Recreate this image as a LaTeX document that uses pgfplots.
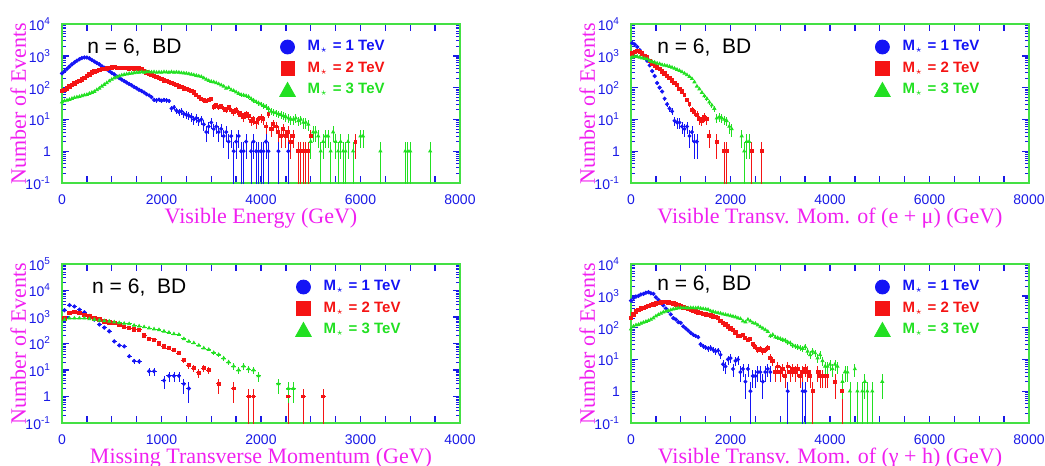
\documentclass[border=0pt]{standalone}
\usepackage{fontspec}
\setmainfont{Liberation Serif}
\setsansfont{Liberation Sans}
\usepackage{pgfplots}
\pgfplotsset{compat=1.18}
\definecolor{sblue}{HTML}{1414F5}
\definecolor{sred}{HTML}{F51414}
\definecolor{sgreen}{HTML}{22E022}
\definecolor{framegreen}{HTML}{44E044}
\definecolor{tickblue}{HTML}{1A1AE6}
\definecolor{labmag}{HTML}{F020F0}

\begin{document}
\begin{tikzpicture}
\useasboundingbox (0,0) rectangle (522.5pt,-233pt);

% ---------- visible energy
\begin{axis}[at={(31pt,-12pt)}, anchor=north west,
  scale only axis, width=199pt, height=79.5pt,
  ymode=log, ymin=0.1, ymax=10000, xmin=0, xmax=8000,
  xtick={0,500,...,8000}, xticklabels={0,,,,2000,,,,4000,,,,6000,,,,8000},
  ytick={0.1,1,10,100,1000,10000},
  yticklabels={10\textsuperscript{-1},1,10\textsuperscript{1},10\textsuperscript{2},10\textsuperscript{3},10\textsuperscript{4}},
  minor ytick={0.2,0.3,0.4,0.5,0.6,0.7,0.8,0.9,2,3,4,5,6,7,8,9,20,30,40,50,60,70,80,90,200,300,400,500,600,700,800,900,2000,3000,4000,5000,6000,7000,8000,9000},
  axis line style={draw=framegreen, line width=0.8pt},
  major tick length=3.5pt, minor tick length=2pt,
  major tick style={draw=tickblue, line width=0.7pt},
  minor tick style={draw=tickblue, line width=0.45pt},
  xticklabel style={text=tickblue, font=\sffamily\fontsize{7}{8}\selectfont, yshift=-2.5pt},
  yticklabel style={text=tickblue, font=\sffamily\fontsize{7}{8}\selectfont, xshift=-2pt},
  xlabel style={text=labmag, font=\fontsize{11}{12}\selectfont, at={(axis description cs:0.5,-0.22)}, anchor=center},
  ylabel style={text=labmag, font=\fontsize{11}{12}\selectfont, at={(axis description cs:-0.11,0.5)}, anchor=center},
  xlabel={Visible Energy (GeV)}, ylabel={Number of Events},
  legend cell align=left,
  legend style={draw=none, fill=none, font=\sffamily\bfseries\fontsize{7.5}{9}\selectfont, row sep=0pt, column sep=4pt, at={(0.53,0.95)}, anchor=north west}]
\addplot[only marks, mark size=0.85pt, color=sblue, mark=*,
  legend image code/.code={\fill[sblue] (0.2cm,0cm) circle (3.5pt);}] table {
x y
0 280
50 330
100 390
150 460
200 540
250 620
300 700
350 780
400 850
450 890
500 880
550 830
600 740
650 660
700 600
750 540
800 470
850 420
900 380
950 330
1000 290
1050 260
1100 225
1150 200
1200 180
1250 160
1300 145
1350 130
1400 118
1450 105
1500 95
1550 85
1600 78
1650 70
1700 62
};
\addlegendentry{\textcolor{sblue}{M$_\star$ = 1 TeV}}
\addplot[only marks, mark size=0.85pt, color=sred, mark=square*,
  legend image code/.code={\fill[sred] (0.2cm,0cm)+(-3.3pt,-3.3pt) rectangle +(3.3pt,3.3pt);}] table {
x y
0 80
50 85
100 95
150 110
200 120
250 135
300 150
350 165
400 180
450 200
500 230
550 260
600 300
650 320
700 340
750 360
800 380
850 390
900 400
950 420
1000 430
1050 440
1100 420
1150 410
1200 420
1250 410
1300 420
1350 400
1400 410
1450 400
1500 410
1550 400
1600 380
1650 330
1700 300
1750 280
1800 260
1850 230
1900 220
1950 200
2000 185
2050 170
2100 160
2150 150
2200 140
2250 130
2300 120
2350 110
2400 105
2450 95
2500 90
2550 85
2600 80
2650 70
};
\addlegendentry{\textcolor{sred}{M$_\star$ = 2 TeV}}
\addplot[only marks, mark size=0.85pt, color=sgreen, mark=triangle*,
  legend image code/.code={\fill[sgreen] (0.2cm,0cm)+(-3.9pt,-3.3pt) -- +(3.9pt,-3.3pt) -- +(0pt,3.7pt) -- cycle;}] table {
x y
0 35
50 38
100 40
150 42
200 45
250 48
300 50
350 52
400 55
450 58
500 60
550 65
600 70
650 75
700 85
750 95
800 110
850 125
900 140
950 160
1000 180
1050 200
1100 215
1150 230
1200 245
1250 255
1300 265
1350 275
1400 280
1450 290
1500 300
1550 300
1600 310
1650 300
1700 315
1750 310
1800 305
1850 310
1900 300
1950 305
2000 300
2050 310
2100 305
2150 300
2200 310
2250 300
2300 305
2350 300
2400 290
2450 285
2500 280
2550 270
2600 260
2650 250
2700 240
2750 230
2800 220
2850 200
2900 180
2950 165
3000 155
3050 150
3100 140
3150 130
3200 120
3250 110
3300 95
3350 100
3400 85
3450 80
3500 72
3550 65
};
\addlegendentry{\textcolor{sgreen}{M$_\star$ = 3 TeV}}
% low-count bins, drawn with their error bars
\addplot[forget plot, only marks, mark=*, mark size=0.7pt, color=sblue, line width=0.55pt,
  error bars/.cd, y dir=both, y explicit, x dir=both, x fixed=25, error mark=none]
  table[y error expr={min(sqrt(\thisrow{y}),0.995*\thisrow{y})}] {
x y
1750 57
1800 50
1850 41
1900 40
1950 42
2000 39
2050 41
2100 40
2150 38
2200 22
2250 24
2300 19
2350 17
2400 18
2450 15
2500 14
2550 13
2600 12
2650 10
2700 11
2750 9
2800 10
2850 7
2900 4
2950 6
3000 8
3050 5
3100 6
3150 4
3200 5
3250 3
3300 4
3350 2
3400 3
3450 1
3500 2
3550 3
3600 1
3650 1
3700 2
3800 1
3850 2
3900 1
3950 1
4000 1
4050 1
4100 2
4150 1
4350 1
4550 1
};
\addplot[forget plot, only marks, mark=square*, mark size=0.7pt, color=sred, line width=0.55pt,
  error bars/.cd, y dir=both, y explicit, x dir=both, x fixed=25, error mark=none]
  table[y error expr={min(sqrt(\thisrow{y}),0.995*\thisrow{y})}] {
x y
2700 60
2750 52
2800 45
2850 40
2900 38
2950 42
3000 44
3050 25
3100 28
3150 24
3200 26
3250 22
3300 20
3350 24
3400 19
3450 17
3500 20
3550 16
3600 14
3650 12
3700 15
3750 13
3800 9
3850 10
3900 8
3950 10
4000 11
4050 10
4100 6
4150 15
4200 5
4250 7
4300 6
4350 4
4400 3
4450 5
4500 3
4550 4
4600 2
4650 3
4750 1
4800 1
4850 1
4900 1
4950 1
5000 3
5900 2
};
\addplot[forget plot, only marks, mark=triangle*, mark size=0.7pt, color=sgreen, line width=0.55pt,
  error bars/.cd, y dir=both, y explicit, x dir=both, x fixed=25, error mark=none]
  table[y error expr={min(sqrt(\thisrow{y}),0.995*\thisrow{y})}] {
x y
3600 60
3650 58
3700 55
3750 52
3800 45
3850 40
3900 36
3950 33
4000 30
4050 27
4100 25
4150 22
4200 18
4250 17
4300 16
4350 15
4400 14
4450 13
4500 12
4550 11
4600 10
4650 10
4700 11
4750 9
4800 10
4850 8
4900 8
4950 7
5000 2
5050 4
5100 4
5150 3
5200 1
5250 2
5300 3
5350 3
5400 1
5450 4
5500 2
5550 1
5600 2
5650 1
5700 1
5750 2
5850 1
6000 3
6050 3
6400 1
6900 1
6950 1
7000 1
7400 1
};
\node[anchor=west, inner sep=0pt, font=\sffamily\fontsize{10.5}{12}\selectfont] at (rel axis cs:0.063,0.855) {n = 6,\ \ BD};
\end{axis}

% ---------- visible pT (e+mu)
\begin{axis}[at={(315.5pt,-12pt)}, anchor=north west,
  scale only axis, width=199pt, height=79.5pt,
  ymode=log, ymin=0.1, ymax=10000, xmin=0, xmax=8000,
  xtick={0,500,...,8000}, xticklabels={0,,,,2000,,,,4000,,,,6000,,,,8000},
  ytick={0.1,1,10,100,1000,10000},
  yticklabels={10\textsuperscript{-1},1,10\textsuperscript{1},10\textsuperscript{2},10\textsuperscript{3},10\textsuperscript{4}},
  minor ytick={0.2,0.3,0.4,0.5,0.6,0.7,0.8,0.9,2,3,4,5,6,7,8,9,20,30,40,50,60,70,80,90,200,300,400,500,600,700,800,900,2000,3000,4000,5000,6000,7000,8000,9000},
  axis line style={draw=framegreen, line width=0.8pt},
  major tick length=3.5pt, minor tick length=2pt,
  major tick style={draw=tickblue, line width=0.7pt},
  minor tick style={draw=tickblue, line width=0.45pt},
  xticklabel style={text=tickblue, font=\sffamily\fontsize{7}{8}\selectfont, yshift=-2.5pt},
  yticklabel style={text=tickblue, font=\sffamily\fontsize{7}{8}\selectfont, xshift=-2pt},
  xlabel style={text=labmag, font=\fontsize{11}{12}\selectfont, at={(axis description cs:0.5,-0.22)}, anchor=center},
  ylabel style={text=labmag, font=\fontsize{11}{12}\selectfont, at={(axis description cs:-0.11,0.5)}, anchor=center},
  xlabel={Visible Transv. Mom. of (e + μ) (GeV)}, ylabel={Number of Events},
  legend cell align=left,
  legend style={draw=none, fill=none, font=\sffamily\bfseries\fontsize{7.5}{9}\selectfont, row sep=0pt, column sep=4pt, at={(0.595,0.95)}, anchor=north west}]
\addplot[only marks, mark size=0.85pt, color=sblue, mark=*,
  legend image code/.code={\fill[sblue] (0.2cm,0cm) circle (3.5pt);},
  error bars/.cd, x dir=both, x fixed=25, error mark=none] table {
x y
25 2500
75 2300
125 1900
175 1500
225 1200
275 900
325 700
375 500
425 330
475 230
525 140
575 100
625 75
};
\addlegendentry{\textcolor{sblue}{M$_\star$ = 1 TeV}}
\addplot[only marks, mark size=0.85pt, color=sred, mark=square*,
  legend image code/.code={\fill[sred] (0.2cm,0cm)+(-3.3pt,-3.3pt) rectangle +(3.3pt,3.3pt);},
  error bars/.cd, x dir=both, x fixed=25, error mark=none] table {
x y
25 1200
75 1350
125 1400
175 1300
225 1200
275 1000
325 900
375 700
425 580
475 500
525 430
575 380
625 320
675 280
725 230
775 200
825 170
875 140
925 120
975 90
1025 75
};
\addlegendentry{\textcolor{sred}{M$_\star$ = 2 TeV}}
\addplot[only marks, mark size=0.85pt, color=sgreen, mark=triangle*,
  legend image code/.code={\fill[sgreen] (0.2cm,0cm)+(-3.9pt,-3.3pt) -- +(3.9pt,-3.3pt) -- +(0pt,3.7pt) -- cycle;},
  error bars/.cd, x dir=both, x fixed=25, error mark=none] table {
x y
25 900
75 950
125 950
175 900
225 850
275 820
325 780
375 700
425 650
475 620
525 580
575 560
625 520
675 500
725 480
775 460
825 430
875 400
925 370
975 340
1025 310
1075 280
1125 250
1175 220
1225 190
1275 150
1325 110
1375 90
1425 70
};
\addlegendentry{\textcolor{sgreen}{M$_\star$ = 3 TeV}}
\addplot[forget plot, only marks, mark=*, mark size=0.7pt, color=sblue, line width=0.55pt,
  error bars/.cd, y dir=both, y explicit, x dir=both, x fixed=25, error mark=none]
  table[y error expr={min(sqrt(\thisrow{y}),0.995*\thisrow{y})}] {
x y
675 45
725 30
775 22
825 18
875 9
925 8
975 8
1025 6
1075 5
1125 6
1175 3
1225 4
1275 2
1325 2
};
\addplot[forget plot, only marks, mark=square*, mark size=0.7pt, color=sred, line width=0.55pt,
  error bars/.cd, y dir=both, y explicit, x dir=both, x fixed=25, error mark=none]
  table[y error expr={min(sqrt(\thisrow{y}),0.995*\thisrow{y})}] {
x y
1075 60
1125 42
1175 30
1225 20
1275 17
1325 14
1375 10
1425 9
1475 12
1525 10
1575 3
1725 2
1875 1
1925 1
2425 1
2625 1
};
\addplot[forget plot, only marks, mark=triangle*, mark size=0.7pt, color=sgreen, line width=0.55pt,
  error bars/.cd, y dir=both, y explicit, x dir=both, x fixed=25, error mark=none]
  table[y error expr={min(sqrt(\thisrow{y}),0.995*\thisrow{y})}] {
x y
1475 55
1525 45
1575 35
1625 28
1675 22
1725 11
1775 12
1825 11
1875 10
1925 9
1975 6
2025 5
2225 3
2275 1
2325 2
2375 2
};
\node[anchor=west, inner sep=0pt, font=\sffamily\fontsize{10.5}{12}\selectfont] at (rel axis cs:0.065,0.855) {n = 6,\ \ BD};
\end{axis}

% ---------- missing pT
\begin{axis}[at={(31pt,-132pt)}, anchor=north west,
  scale only axis, width=199pt, height=79.5pt,
  ymode=log, ymin=0.1, ymax=100000, xmin=0, xmax=4000,
  xtick={0,250,...,4000}, xticklabels={0,,,,1000,,,,2000,,,,3000,,,,4000},
  ytick={0.1,1,10,100,1000,10000,100000},
  yticklabels={10\textsuperscript{-1},1,10\textsuperscript{1},10\textsuperscript{2},10\textsuperscript{3},10\textsuperscript{4},10\textsuperscript{5}},
  minor ytick={0.2,0.3,0.4,0.5,0.6,0.7,0.8,0.9,2,3,4,5,6,7,8,9,20,30,40,50,60,70,80,90,200,300,400,500,600,700,800,900,2000,3000,4000,5000,6000,7000,8000,9000,20000,30000,40000,50000,60000,70000,80000,90000},
  axis line style={draw=framegreen, line width=0.8pt},
  major tick length=3.5pt, minor tick length=2pt,
  major tick style={draw=tickblue, line width=0.7pt},
  minor tick style={draw=tickblue, line width=0.45pt},
  xticklabel style={text=tickblue, font=\sffamily\fontsize{7}{8}\selectfont, yshift=-2.5pt},
  yticklabel style={text=tickblue, font=\sffamily\fontsize{7}{8}\selectfont, xshift=-2pt},
  xlabel style={text=labmag, font=\fontsize{11}{12}\selectfont, at={(axis description cs:0.5,-0.22)}, anchor=center},
  ylabel style={text=labmag, font=\fontsize{11}{12}\selectfont, at={(axis description cs:-0.11,0.5)}, anchor=center},
  xlabel={Missing Transverse Momentum (GeV)}, ylabel={Number of Events},
  legend cell align=left,
  legend style={draw=none, fill=none, font=\sffamily\bfseries\fontsize{7.5}{9}\selectfont, row sep=0pt, column sep=4pt, at={(0.57,0.95)}, anchor=north west}]
\addplot[only marks, mark size=0.85pt, color=sblue, mark=*,
  legend image code/.code={\fill[sblue] (0.2cm,0cm) circle (3.5pt);},
  error bars/.cd, x dir=both, x fixed=25, error mark=none] table {
x y
25 1800
75 2800
125 2500
175 1900
225 1500
275 1100
325 800
375 520
425 400
475 290
525 120
575 85
625 78
};
\addlegendentry{\textcolor{sblue}{M$_\star$ = 1 TeV}}
\addplot[only marks, mark size=0.85pt, color=sred, mark=square*,
  legend image code/.code={\fill[sred] (0.2cm,0cm)+(-3.3pt,-3.3pt) rectangle +(3.3pt,3.3pt);},
  error bars/.cd, x dir=both, x fixed=25, error mark=none] table {
x y
25 900
75 1400
125 1550
175 1400
225 1200
275 1050
325 900
375 800
425 690
475 620
525 590
575 500
625 420
675 380
725 340
775 330
825 200
875 150
925 140
975 100
1025 78
1075 67
};
\addlegendentry{\textcolor{sred}{M$_\star$ = 2 TeV}}
\addplot[only marks, mark size=0.85pt, color=sgreen, mark=triangle*,
  legend image code/.code={\fill[sgreen] (0.2cm,0cm)+(-3.9pt,-3.3pt) -- +(3.9pt,-3.3pt) -- +(0pt,3.7pt) -- cycle;},
  error bars/.cd, x dir=both, x fixed=25, error mark=none] table {
x y
25 800
75 900
125 900
175 900
225 900
275 850
325 800
375 750
425 720
475 690
525 640
575 600
625 570
675 550
725 480
775 450
825 420
875 380
925 350
975 330
1025 290
1075 260
1125 230
1175 215
1225 150
1275 120
1325 105
1375 85
1425 67
};
\addlegendentry{\textcolor{sgreen}{M$_\star$ = 3 TeV}}
\addplot[forget plot, only marks, mark=*, mark size=0.7pt, color=sblue, line width=0.55pt,
  error bars/.cd, y dir=both, y explicit, x dir=both, x fixed=25, error mark=none]
  table[y error expr={min(sqrt(\thisrow{y}),0.995*\thisrow{y})}] {
x y
675 33
725 22
775 21
875 9
925 9
1025 4
1075 6
1125 6
1175 6
1225 3
1275 2
};
\addplot[forget plot, only marks, mark=square*, mark size=0.7pt, color=sred, line width=0.55pt,
  error bars/.cd, y dir=both, y explicit, x dir=both, x fixed=25, error mark=none]
  table[y error expr={min(sqrt(\thisrow{y}),0.995*\thisrow{y})}] {
x y
1125 55
1175 44
1225 24
1275 15
1325 12
1375 8
1425 12
1475 10
1575 3
1725 2
1875 1
1925 1
2275 1
2425 1
2625 1
};
\addplot[forget plot, only marks, mark=triangle*, mark size=0.7pt, color=sgreen, line width=0.55pt,
  error bars/.cd, y dir=both, y explicit, x dir=both, x fixed=25, error mark=none]
  table[y error expr={min(sqrt(\thisrow{y}),0.995*\thisrow{y})}] {
x y
1475 59
1525 45
1575 38
1625 28
1675 20
1725 14
1775 10
1825 14
1875 11
1925 10
1975 6
2175 3
2275 2
2325 2
};
\node[anchor=west, inner sep=0pt, font=\sffamily\fontsize{10.5}{12}\selectfont] at (rel axis cs:0.075,0.855) {n = 6,\ \ BD};
\end{axis}

% ---------- visible pT (gamma+h)
\begin{axis}[at={(315.5pt,-132pt)}, anchor=north west,
  scale only axis, width=199pt, height=79.5pt,
  ymode=log, ymin=0.1, ymax=10000, xmin=0, xmax=8000,
  xtick={0,500,...,8000}, xticklabels={0,,,,2000,,,,4000,,,,6000,,,,8000},
  ytick={0.1,1,10,100,1000,10000},
  yticklabels={10\textsuperscript{-1},1,10\textsuperscript{1},10\textsuperscript{2},10\textsuperscript{3},10\textsuperscript{4}},
  minor ytick={0.2,0.3,0.4,0.5,0.6,0.7,0.8,0.9,2,3,4,5,6,7,8,9,20,30,40,50,60,70,80,90,200,300,400,500,600,700,800,900,2000,3000,4000,5000,6000,7000,8000,9000},
  axis line style={draw=framegreen, line width=0.8pt},
  major tick length=3.5pt, minor tick length=2pt,
  major tick style={draw=tickblue, line width=0.7pt},
  minor tick style={draw=tickblue, line width=0.45pt},
  xticklabel style={text=tickblue, font=\sffamily\fontsize{7}{8}\selectfont, yshift=-2.5pt},
  yticklabel style={text=tickblue, font=\sffamily\fontsize{7}{8}\selectfont, xshift=-2pt},
  xlabel style={text=labmag, font=\fontsize{11}{12}\selectfont, at={(axis description cs:0.5,-0.22)}, anchor=center},
  ylabel style={text=labmag, font=\fontsize{11}{12}\selectfont, at={(axis description cs:-0.11,0.5)}, anchor=center},
  xlabel={Visible Transv. Mom. of (γ + h) (GeV)}, ylabel={Number of Events},
  legend cell align=left,
  legend style={draw=none, fill=none, font=\sffamily\bfseries\fontsize{7.5}{9}\selectfont, row sep=0pt, column sep=4pt, at={(0.595,0.95)}, anchor=north west}]
\addplot[only marks, mark size=0.85pt, color=sblue, mark=*,
  legend image code/.code={\fill[sblue] (0.2cm,0cm) circle (3.5pt);}] table {
x y
0 700
50 850
100 950
150 1000
200 1100
250 1150
300 1250
350 1300
400 1200
450 1150
500 900
550 750
600 600
650 500
700 400
750 330
800 260
850 200
900 180
950 150
1000 140
1050 110
1100 95
1150 80
1200 68
};
\addlegendentry{\textcolor{sblue}{M$_\star$ = 1 TeV}}
\addplot[only marks, mark size=0.85pt, color=sred, mark=square*,
  legend image code/.code={\fill[sred] (0.2cm,0cm)+(-3.3pt,-3.3pt) rectangle +(3.3pt,3.3pt);}] table {
x y
0 200
50 260
100 320
150 360
200 400
250 420
300 450
350 480
400 520
450 540
500 580
550 600
600 620
650 630
700 630
750 620
800 600
850 570
900 540
950 520
1000 480
1050 430
1100 410
1150 380
1200 370
1250 350
1300 320
1350 300
1400 290
1450 270
1500 260
1550 250
1600 240
1650 225
1700 220
1750 200
1800 160
1850 140
1900 125
1950 110
2000 95
2050 85
2100 70
};
\addlegendentry{\textcolor{sred}{M$_\star$ = 2 TeV}}
\addplot[only marks, mark size=0.85pt, color=sgreen, mark=triangle*,
  legend image code/.code={\fill[sgreen] (0.2cm,0cm)+(-3.9pt,-3.3pt) -- +(3.9pt,-3.3pt) -- +(0pt,3.7pt) -- cycle;}] table {
x y
0 90
50 110
100 120
150 125
200 135
250 145
300 155
350 165
400 180
450 200
500 230
550 255
600 280
650 305
700 325
750 340
800 360
850 380
900 395
950 410
1000 420
1050 415
1100 420
1150 410
1200 420
1250 415
1300 410
1350 420
1400 400
1450 390
1500 380
1550 370
1600 330
1650 320
1700 300
1750 290
1800 280
1850 265
1900 255
1950 245
2000 235
2050 225
2100 215
2150 200
2200 190
2250 160
2300 150
2350 180
2400 160
2450 140
2500 135
2550 120
2600 105
2650 95
2700 85
2750 75
};
\addlegendentry{\textcolor{sgreen}{M$_\star$ = 3 TeV}}
\addplot[forget plot, only marks, mark=*, mark size=0.7pt, color=sblue, line width=0.55pt,
  error bars/.cd, y dir=both, y explicit, x dir=both, x fixed=25, error mark=none]
  table[y error expr={min(sqrt(\thisrow{y}),0.995*\thisrow{y})}] {
x y
1250 60
1300 55
1350 50
1400 30
1450 26
1500 24
1550 22
1600 23
1650 20
1700 18
1750 19
1800 14
1850 7
1900 6
1950 10
2000 11
2050 5
2100 9
2150 10
2200 4
2250 5
2300 2
2350 5
2400 1
2450 3
2500 3
2550 4
2600 4
2650 2
2700 4
2750 5
2800 4
3150 1
3450 1
3500 1
};
\addplot[forget plot, only marks, mark=square*, mark size=0.7pt, color=sred, line width=0.55pt,
  error bars/.cd, y dir=both, y explicit, x dir=both, x fixed=25, error mark=none]
  table[y error expr={min(sqrt(\thisrow{y}),0.995*\thisrow{y})}] {
x y
2150 54
2200 55
2250 60
2300 48
2350 42
2400 45
2450 30
2500 25
2550 20
2600 22
2650 18
2700 20
2750 23
2800 11
2850 9
2900 4
2950 6
3000 4
3050 5
3100 3
3150 6
3200 4
3250 5
3300 4
3350 5
3400 3
3450 4
3500 5
3550 4
3600 3
3650 1
3750 4
3800 3
3850 3
3900 3
3950 3
4100 2
4250 1
};
\addplot[forget plot, only marks, mark=triangle*, mark size=0.7pt, color=sgreen, line width=0.55pt,
  error bars/.cd, y dir=both, y explicit, x dir=both, x fixed=25, error mark=none]
  table[y error expr={min(sqrt(\thisrow{y}),0.995*\thisrow{y})}] {
x y
2800 55
2850 60
2900 50
2950 48
3000 45
3050 42
3100 40
3150 35
3200 33
3250 28
3300 26
3350 25
3400 23
3450 22
3500 25
3550 18
3600 14
3650 18
3700 16
3750 11
3800 14
3850 9
3900 6
3950 6
4000 7
4050 5
4100 7
4150 6
4250 2
4300 4
4350 4
4400 1
4500 5
4550 1
4650 1
4700 2
4750 1
4850 1
5050 2
};
\node[anchor=west, inner sep=0pt, font=\sffamily\fontsize{10.5}{12}\selectfont] at (rel axis cs:0.065,0.87) {n = 6,\ \ BD};
\end{axis}
\end{tikzpicture}
\end{document}
